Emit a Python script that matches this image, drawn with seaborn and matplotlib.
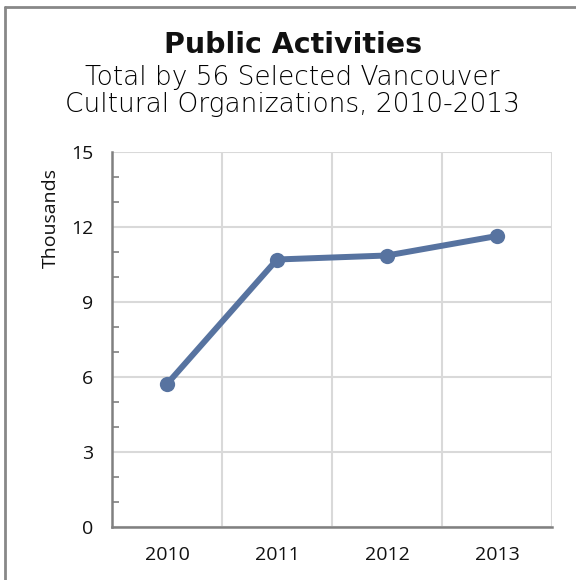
import matplotlib
matplotlib.use("Agg")
import matplotlib.pyplot as plt
from matplotlib.lines import Line2D
from matplotlib.ticker import MultipleLocator, FixedLocator, NullFormatter
import seaborn as sns
import pandas as pd

# Public activities (thousands) by year
years = ["2010", "2011", "2012", "2013"]
activities = [5.72, 10.7, 10.86, 11.64]

title = "Public Activities"
subtitle = "Total by 56 Selected Vancouver\nCultural Organizations, 2010-2013"
y_label = "Thousands"
y_ticks = [0, 3, 6, 9, 12, 15]

sns.set_theme(style="white")
plt.rcParams["font.family"] = ["Open Sans", "DejaVu Sans"]

df = pd.DataFrame({"year": years, "value": activities})

fig = plt.figure(figsize=(5.76, 5.80), dpi=100)
ax = fig.add_axes([112 / 576, 1 - 527 / 580, 440 / 576, 375 / 580])

line_color = "#5773a0"
sns.lineplot(data=df, x="year", y="value", ax=ax, color=line_color,
             linewidth=4.3, marker="o", markersize=11,
             markeredgewidth=0, zorder=3)

n = len(years)
ax.set_xlim(-0.5, n - 0.5)
ax.set_ylim(0, 15)

# category boundaries carry grid lines and tick marks; centres carry labels
ax.xaxis.set_major_locator(FixedLocator([i - 0.5 for i in range(n + 1)]))
ax.xaxis.set_major_formatter(NullFormatter())
ax.xaxis.set_minor_locator(FixedLocator(list(range(n))))
ax.set_xticklabels(years, minor=True)
ax.tick_params(axis="x", which="major", direction="out", length=7,
               width=1.5, color="#808080")
ax.tick_params(axis="x", which="minor", length=0, pad=14,
               labelsize=14, labelcolor="#111111")

ax.set_yticks(y_ticks)
ax.yaxis.set_minor_locator(MultipleLocator(1))
ax.tick_params(axis="y", which="major", direction="inout", length=11,
               width=1.5, color="#808080", labelsize=14,
               labelcolor="#111111", pad=8)
ax.tick_params(axis="y", which="minor", direction="in", length=5,
               width=1.2, color="#808080", left=True)

ax.grid(True, which="major", color="#d9d9d9", linewidth=1.5)
ax.set_axisbelow(True)

for side in ["top", "right"]:
    ax.spines[side].set_visible(False)
for side in ["left", "bottom"]:
    ax.spines[side].set_color("#808080")
    ax.spines[side].set_linewidth(1.8)

ax.set_xlabel("")
ax.set_ylabel(y_label, fontsize=14, color="#111111")
ax.yaxis.set_label_coords(-0.118, 0.824)

fig.text(0.508, 1 - 45 / 580, title, ha="center", va="center",
         fontsize=20.5, fontweight="bold", family=["DejaVu Sans"],
         color="#111111")
fig.text(0.508, 1 - 91 / 580, subtitle, ha="center", va="center",
         fontsize=19, fontweight="light", family=["DejaVu Sans"],
         color="#000000", linespacing=1.08)

# frame along the left and top edges
fig.add_artist(Line2D([5 / 576, 5 / 576], [0, 1 - 6.5 / 580],
                      transform=fig.transFigure, color="#888888", linewidth=2))
fig.add_artist(Line2D([5 / 576, 1], [1 - 6.5 / 580, 1 - 6.5 / 580],
                      transform=fig.transFigure, color="#888888", linewidth=2))

fig.savefig("out.png", dpi=100, facecolor="white")
